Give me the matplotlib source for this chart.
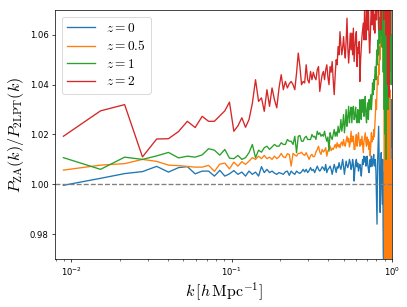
import numpy as np
import matplotlib
matplotlib.use("Agg")
import matplotlib.pyplot as plt
from matplotlib.font_manager import FontProperties

# FFT bin grid: k_n = k_f * (n + 0.42), n = 1..159, k_f = 2*pi/1000 h/Mpc
K_F = 0.00628
bin_index = np.arange(1, 160)
k = K_F * (bin_index + 0.42)

# ratio deviations in units of 1e-3, i.e. P_ZA/P_2LPT = 1 + value/1000
ratio_z0_permille = [
    -0.4, 2.4, 4.3, 5.1, 7.2, 4.9, 6.7, 7.1, 4.2, 5.3,
    5.3, 3.3, 5.6, 3.3, 4.2, 5.5, 4, 4.9, 3.3, 5.3,
    4, 4.9, 3.3, 7.1, 4.7, 6, 4.7, 5.3, 4.5, 4,
    4.7, 4.4, 4, 5, 5.3, 3.6, 5.3, 4.5, 4, 5.3,
    4.7, 4.4, 5, 6, 5, 6, 4.7, 5.5, 6.7, 5.5,
    6, 4.7, 6, 7.3, 6, 5.3, 6, 7, 6.5, 5.5,
    8, 4.7, 6, 6.5, 7.3, 6, 4, 6, 8, 6.5,
    4.7, 7, 6.5, 8.7, 7, 6, 8, 10, 7, 4,
    7, 9.3, 7.5, 6.7, 8, 10, 8.7, 6, 7, 10,
    8, 1.3, 6, 8.7, 10, 7, 8.5, 5.3, 7, 8,
    6, 3.3, 7, 10, 8, 11.3, 9, 11, 7.3, 9,
    11.3, 8, 6, 4.7, 8, 10, 7, 11.3, 9, 7.3,
    10, 12, 8, 7.3, 10, 5, -5, -16, 8, 15,
    23.3, 10, 0, -11.3, 5, 12.7, 2, -8, 10, -27.3,
    -35, 5, -20, 18, -10, -40, 8, -19.3, 10, 34,
    15, 3.3, 25, 18, 30, 5, 34, 15, 20,
]

ratio_z05_permille = [
    5.7, 7.7, 8.3, 10, 9.2, 7.7, 7.5, 7.2, 6.9, 6.9,
    7.6, 5.2, 8.1, 8.5, 6.2, 8.9, 7.3, 9.1, 8, 9.3,
    10.7, 10, 11.3, 10.3, 11.6, 10.3, 10.9, 10, 11.3, 10.3,
    11, 12.4, 11, 10.7, 12.3, 12, 7.3, 12.4, 11.8, 11.3,
    12.4, 12.4, 12.9, 12, 11.6, 12.7, 11.3, 10, 11.5, 12,
    11, 11.3, 13, 14, 15.3, 13, 12, 14, 13, 13.5,
    14.7, 11.3, 13.5, 14, 15.3, 13.5, 14.5, 14, 15, 16,
    14.5, 16.7, 15, 16, 14.7, 16.5, 17, 15.5, 18, 16,
    15.3, 17.5, 19.3, 17, 18.5, 15, 16.7, 21.3, 17, 19.3,
    19.3, 14, 14, 18, 20, 15.3, 19, 20.7, 17, 15.3,
    18, 16, 19.3, 16, 12.7, 17, 19, 20.7, 17, 15.3,
    19, 16, 18, 14, 17, 11.3, 16, 20.7, 17, 19,
    18, 22, 19, 23.3, 28, 34, 30, 38, 43.3, 40,
    48, 44, 55.3, 50, 62, 55.3, 66, 60, 75, 68,
    90, -10, -45, 20, -50, -60, 10, -40, -70, 30,
    -35, 5, -60, 38, -20, -50, 10, -40, -30,
]

ratio_z1_permille = [
    10.7, 6, 10.9, 10, 11.4, 12.8, 10.6, 11.3, 10.9, 11.8,
    14.3, 13.7, 11.7, 14, 10.5, 10.3, 11.6, 10, 10.7, 12.7,
    16, 10.7, 13.7, 12.9, 14.7, 15.3, 14, 15, 16, 15.3,
    15.3, 16.7, 16, 16, 18, 17.3, 17.3, 16, 19.3, 12.7,
    19.3, 19.6, 17.3, 17.3, 18.7, 19.3, 18, 18, 18, 20,
    19, 19.3, 18, 21.3, 20, 20.7, 19.3, 20, 19.3, 21.3,
    19, 17.3, 19, 13.3, 20.7, 19, 18, 20, 22, 19.3,
    21, 19.3, 23.3, 20.7, 22, 26, 21.3, 24, 28, 20.7,
    25, 30, 23.3, 27, 31.3, 24.7, 28.7, 31, 24.7, 30,
    31.3, 26, 27.3, 31, 26, 24.7, 30, 27, 24.7, 34,
    28, 26, 34, 29, 34, 27.3, 30, 35.3, 28, 24.7,
    30, 32.7, 26, 34, 30, 33, 36, 30, 34, 40.7,
    36, 42, 38, 44, 47.3, 42, 50, 54, 48, 58,
    52, 67, 56.7, 62, 75, 60, 80, 55, 85, 45,
    75, 30, 60, 20, 90, 10, 70, 40, 80, 30,
    60, 85, 45, 75, 50, 90, 40, 60, 55,
]

ratio_z2_permille = [
    19.3, 29.5, 32, 11, 18.2, 18.3, 21.2, 25.3, 22.8, 27.3,
    25.3, 25.3, 27.5, 29.5, 33, 21.3, 23.5, 26.7, 22.9, 26,
    32.5, 42, 33.3, 34.7, 29.3, 38, 31.3, 38.7, 34, 30.7,
    38.7, 44, 38, 41.3, 38.7, 40.4, 41.3, 40, 38, 44.7,
    52.7, 47.3, 40, 41.3, 40.7, 48, 42, 40.7, 45.3, 42,
    45, 43, 42, 46, 47.3, 37.3, 41, 44, 45.3, 42,
    46, 48, 43, 40, 47.3, 45, 49.3, 42, 36, 44,
    50, 48, 55.3, 52, 61.3, 56, 52, 55, 59.3, 54,
    50.7, 58, 66.7, 55, 48.7, 54, 60.7, 54, 60.7, 52,
    62.7, 49.3, 54.7, 59.3, 61.3, 47.3, 55, 52.7, 57.3, 41.3,
    50, 55, 59.3, 62, 64.7, 58, 70, 66, 58, 63,
    72, 62, 72, 60, 52.7, 58, 66, 72, 64, 72,
    75, 62, 68, 60.7, 72, 80, 66, 78, 85, 70,
    62, 80, 90, 75, 95, 62, 88, 100, 70, 110,
    66, 90, 120, 75, 100, 60, 130, 80, 40, 110,
    70, 35, 95, 120, 60, 140, 80, 100, 90,
]

labels = [r'$z=0$', r'$z=0.5$', r'$z=1$', r'$z=2$']
colors = ['#1f77b4', '#ff7f0e', '#2ca02c', '#d62728']
series = [ratio_z0_permille, ratio_z05_permille, ratio_z1_permille, ratio_z2_permille]

fig = plt.figure(figsize=(407 / 64, 307 / 64), dpi=64)
ax = fig.add_axes([55 / 407, 1 - 259 / 307, (392 - 55) / 407, (259 - 10) / 307])

for vals, lab, col in zip(series, labels, colors):
    y = 1 + np.array(vals) / 1000.0
    ax.plot(k, y, color=col, lw=1.5, label=lab)

ax.axhline(1.0, color='gray', ls='--', lw=1.5)

ax.set_xscale('log')
ax.set_xlim(0.0079, 1.0)
ax.set_ylim(0.97, 1.07)
ax.set_yticks([0.98, 1.00, 1.02, 1.04, 1.06])
ax.tick_params(labelsize=9.5)

ax.set_xlabel(r'$k\,[h\,{\rm Mpc}^{-1}]$', fontsize=18, math_fontfamily='cm')
ax.set_ylabel(r'$P_{\rm ZA}(k)/P_{\rm 2LPT}(k)$', fontsize=18, math_fontfamily='cm')

leg = ax.legend(loc='upper left', prop=FontProperties(size=15, math_fontfamily='cm'),
                labelspacing=0.33, handlelength=2.1)

fig.savefig('out.png', dpi=64)
